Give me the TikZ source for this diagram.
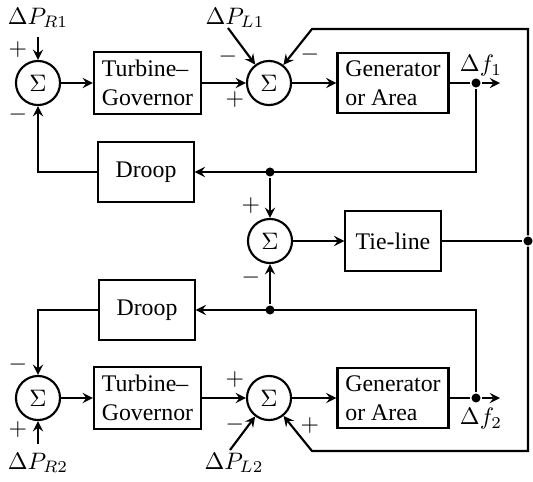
\documentclass[tikz,border=0pt]{standalone}
\usepackage{fontspec}
\setmainfont{Liberation Serif}
\begin{document}
\begin{tikzpicture}[x=4.2pt, y=4.2pt, >=stealth, line width=0.9pt,
  block/.style={draw, minimum width=40pt, minimum height=25.5pt, align=left},
  sum/.style={draw, circle, minimum size=18.5pt, inner sep=0pt},
  dot/.style={circle, fill, inner sep=0pt, minimum size=3.8pt}]
  \useasboundingbox (0,0) rectangle (53.3,48.1);

  % area 1
  \node[sum] (s1) at (3.8,39.8) {$\Sigma$};
  \node[block] (tg1) at (14.75,39.8) {Turbine--\\Governor};
  \node[sum] (s2) at (26.9,39.8) {$\Sigma$};
  \node[block] (g1) at (39.3,39.8) {Generator\\or Area};
  \node[dot] (f1) at (47.6,39.8) {};
  \coordinate (o1) at (50,39.8);
  \node (lf1) at (48.1,41.5) {$\Delta f_1$};
  \node (pr1) at (3.8,46.3) {$\Delta P_{R1}$};
  \node (pl1) at (23.5,46.3) {$\Delta P_{L1}$};
  \coordinate (l1) at (22.8,45.3);
  \node[block] (d1) at (14.6,30.9) {Droop};
  \node[dot] (j1) at (27,30.9) {};

  % tie-line
  \node[sum] (s3) at (27,24) {$\Sigma$};
  \node[block] (tie) at (39.3,24) {Tie-line};
  \node[dot] (td) at (52.8,24) {};
  \coordinate (c1) at (31.2,45.2);
  \coordinate (c2) at (31.2,3.0);

  % area 2
  \node[block] (d2) at (14.7,17.1) {Droop};
  \node[dot] (j2) at (27,17.1) {};
  \node[sum] (s4) at (3.8,8.3) {$\Sigma$};
  \node[block] (tg2) at (14.75,8.3) {Turbine--\\Governor};
  \node[sum] (s5) at (26.9,8.3) {$\Sigma$};
  \node[block] (g2) at (39.3,8.3) {Generator\\or Area};
  \node[dot] (f2) at (47.6,8.3) {};
  \coordinate (o2) at (50,8.3);
  \node (lf2) at (48.1,6.2) {$\Delta f_2$};
  \node (pr2) at (3.8,1.8) {$\Delta P_{R2}$};
  \node (pl2) at (23.4,1.8) {$\Delta P_{L2}$};
  \coordinate (l2) at (23.0,3.1);

  % signs
  \node (a1) at (1.8,43.1) {$+$};
  \node (a2) at (1.8,36.6) {$-$};
  \node (a3) at (22.8,42.4) {$-$};
  \node (a4) at (23.5,38.1) {$+$};
  \node (a5) at (31.0,42.6) {$-$};
  \node (a6) at (25.1,27.5) {$+$};
  \node (a7) at (25.1,20.3) {$-$};
  \node (a8) at (1.8,11.6) {$-$};
  \node (a9) at (1.8,5.1) {$+$};
  \node (a10) at (23.5,10.1) {$+$};
  \node (a11) at (23.5,5.6) {$-$};
  \node (a12) at (31.0,5.5) {$+$};

  % connections
  \draw[->] (pr1) -- (s1);
  \draw[->] (s1) -- (tg1);
  \draw[->] (tg1) -- (s2);
  \draw[->] (l1) -- (s2);
  \draw[->] (s2) -- (g1);
  \draw (g1) -- (f1);
  \draw[->] (f1) -- (o1);
  \draw[->] (f1) |- (d1.east);
  \draw[->] (d1.west) -| (s1.south);
  \draw[->] (j1) -- (s3);

  \draw[->] (s3) -- (tie);
  \draw (tie) -- (td);
  \draw[->] (td) |- (c1) -- (s2);
  \draw[->] (td) |- (c2) -- (s5);

  \draw[->] (pr2) -- (s4);
  \draw[->] (s4) -- (tg2);
  \draw[->] (tg2) -- (s5);
  \draw[->] (l2) -- (s5);
  \draw[->] (s5) -- (g2);
  \draw (g2) -- (f2);
  \draw[->] (f2) -- (o2);
  \draw[->] (f2) |- (d2.east);
  \draw[->] (d2.west) -| (s4.north);
  \draw[->] (j2) -- (s3);
\end{tikzpicture}
\end{document}
